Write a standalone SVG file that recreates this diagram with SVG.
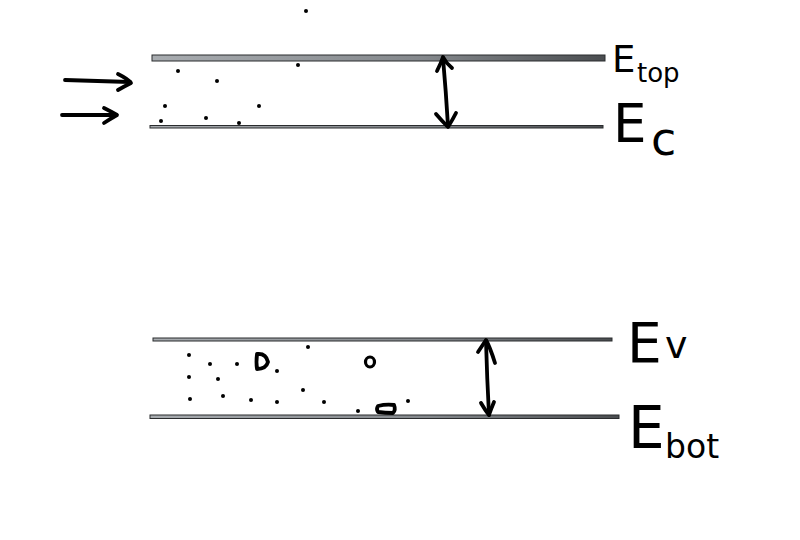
<svg xmlns="http://www.w3.org/2000/svg" width="800" height="540" viewBox="0 0 800 540">
<defs>
<linearGradient id="plate" x1="0" y1="0" x2="1" y2="0">
<stop offset="0" stop-color="#a8acb0"/>
<stop offset="0.6" stop-color="#84888c"/>
<stop offset="1" stop-color="#4a4d50"/>
</linearGradient>
<style>
.plate{fill:url(#plate);stroke:#2a2c2e;stroke-width:1}
.dot{fill:#000}
.arr{fill:none;stroke:#000;stroke-width:3.8;stroke-linecap:round;stroke-linejoin:round}
.lbl{font-family:"DejaVu Sans","Liberation Sans",sans-serif;fill:#000}
</style>
</defs>
<rect width="800" height="540" fill="#fff"/>
<g id="band-top">
<rect class="plate" x="152" y="55" width="453" height="6"/>
<rect class="plate" x="150" y="125.5" width="453" height="2.5"/>
</g>
<g id="band-bottom">
<rect class="plate" x="153" y="338" width="459" height="3"/>
<rect class="plate" x="150" y="415" width="469" height="3.5"/>
</g>
<g id="dots-top">
<circle class="dot" cx="306" cy="11" r="2"/>
<circle class="dot" cx="178" cy="71" r="2"/>
<circle class="dot" cx="217" cy="81" r="2"/>
<circle class="dot" cx="298" cy="65" r="2"/>
<circle class="dot" cx="165" cy="106" r="2"/>
<circle class="dot" cx="259" cy="106" r="2"/>
<circle class="dot" cx="161" cy="121" r="2"/>
<circle class="dot" cx="206" cy="118" r="2"/>
<circle class="dot" cx="239" cy="123" r="2"/>
</g>
<g id="dots-bottom">
<circle class="dot" cx="189" cy="355" r="2"/>
<circle class="dot" cx="210" cy="364" r="2"/>
<circle class="dot" cx="237" cy="364" r="2"/>
<circle class="dot" cx="277" cy="371" r="2"/>
<circle class="dot" cx="308" cy="347" r="2"/>
<circle class="dot" cx="189" cy="377" r="2"/>
<circle class="dot" cx="218" cy="379" r="2"/>
<circle class="dot" cx="190" cy="399" r="2"/>
<circle class="dot" cx="223" cy="396" r="2"/>
<circle class="dot" cx="251" cy="400" r="2"/>
<circle class="dot" cx="277" cy="402" r="2"/>
<circle class="dot" cx="303" cy="390" r="2"/>
<circle class="dot" cx="324" cy="402" r="2"/>
<circle class="dot" cx="358" cy="411" r="2"/>
<circle class="dot" cx="408" cy="401" r="2"/>
<path class="arr" d="M257,354 Q256,362 257,369 Q266,369 268,362 Q266,353 257,354 Z"/>
<ellipse cx="370" cy="362" rx="4.5" ry="5" fill="none" stroke="#000" stroke-width="3.2"/>
<path class="arr" d="M378,406 Q386,404 394,405 Q396,410 393,413 Q385,413 378,412 Q376,409 378,406 Z"/>
</g>
<g id="connectors">
<path class="arr" d="M65,80 Q100,81 130,82"/>
<path class="arr" d="M118,74 Q128,79 131,83 Q125,86 118,90"/>
<path class="arr" d="M62,115 Q90,115 116,115"/>
<path class="arr" d="M104,108 Q112,112 117,115 Q110,119 104,123"/>
<path class="arr" d="M443,58 Q446,92 448,126"/>
<path class="arr" d="M437,71 Q441,63 443,57 Q446,63 452,68"/>
<path class="arr" d="M436,114 Q442,121 448,127 Q453,119 456,113"/>
<path class="arr" d="M486,341 Q487,378 489,415"/>
<path class="arr" d="M478,352 Q482,346 486,340 Q490,347 495,363"/>
<path class="arr" d="M481,403 Q485,410 489,415 Q491,409 494,402"/>
</g>
<g id="labels">
<text class="lbl" x="612" y="72" font-size="37">E</text>
<text class="lbl" x="637" y="82" font-size="26">top</text>
<text class="lbl" x="613" y="142" font-size="53">E</text>
<text class="lbl" x="651" y="155" font-size="46">c</text>
<text class="lbl" x="627" y="362" font-size="55">E</text>
<text class="lbl" x="665" y="358" font-size="38">v</text>
<text class="lbl" x="628" y="448" font-size="58">E</text>
<text class="lbl" x="665" y="458" font-size="33">bot</text>
</g>
</svg>
